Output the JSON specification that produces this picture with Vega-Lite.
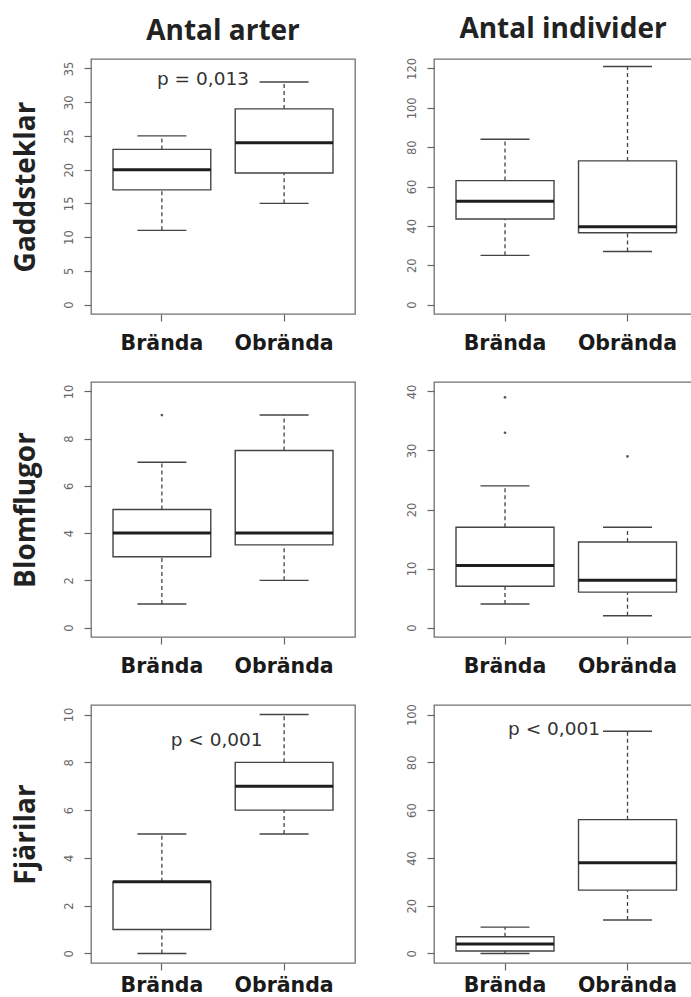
{
  "$schema": "https://vega.github.io/schema/vega-lite/v6.json",
  "padding": {"left": 11, "top": 15, "right": 0, "bottom": 0},
  "background": "white",
  "datasets": {
    "stats": [
      {"taxon": "Gaddsteklar", "measure": "arter", "group": "Brända", "min": 11, "q1": 17, "median": 20, "q3": 23, "max": 25},
      {"taxon": "Gaddsteklar", "measure": "arter", "group": "Obrända", "min": 15, "q1": 19.5, "median": 24, "q3": 29, "max": 33},
      {"taxon": "Gaddsteklar", "measure": "individer", "group": "Brända", "min": 25, "q1": 43.5, "median": 52.5, "q3": 63, "max": 84},
      {"taxon": "Gaddsteklar", "measure": "individer", "group": "Obrända", "min": 27, "q1": 36.5, "median": 39.5, "q3": 73, "max": 121},
      {"taxon": "Blomflugor", "measure": "arter", "group": "Brända", "min": 1, "q1": 3, "median": 4, "q3": 5, "max": 7},
      {"taxon": "Blomflugor", "measure": "arter", "group": "Obrända", "min": 2, "q1": 3.5, "median": 4, "q3": 7.5, "max": 9},
      {"taxon": "Blomflugor", "measure": "individer", "group": "Brända", "min": 4, "q1": 7, "median": 10.5, "q3": 17, "max": 24},
      {"taxon": "Blomflugor", "measure": "individer", "group": "Obrända", "min": 2, "q1": 6, "median": 8, "q3": 14.5, "max": 17},
      {"taxon": "Fjärilar", "measure": "arter", "group": "Brända", "min": 0, "q1": 1, "median": 3, "q3": 3, "max": 5},
      {"taxon": "Fjärilar", "measure": "arter", "group": "Obrända", "min": 5, "q1": 6, "median": 7, "q3": 8, "max": 10},
      {"taxon": "Fjärilar", "measure": "individer", "group": "Brända", "min": 0, "q1": 1, "median": 4, "q3": 7, "max": 11},
      {"taxon": "Fjärilar", "measure": "individer", "group": "Obrända", "min": 14, "q1": 26.5, "median": 38, "q3": 56, "max": 93}
    ],
    "outliers": [
      {"taxon": "Blomflugor", "measure": "arter", "group": "Brända", "value": 9},
      {"taxon": "Blomflugor", "measure": "individer", "group": "Brända", "value": 33},
      {"taxon": "Blomflugor", "measure": "individer", "group": "Brända", "value": 39},
      {"taxon": "Blomflugor", "measure": "individer", "group": "Obrända", "value": 29}
    ],
    "pvalues": [
      {"taxon": "Gaddsteklar", "measure": "arter", "label": "p = 0,013"},
      {"taxon": "Fjärilar", "measure": "arter", "label": "p < 0,001"},
      {"taxon": "Fjärilar", "measure": "individer", "label": "p < 0,001"}
    ]
  },
  "hconcat": [
    {
      "bounds": "flush",
      "spacing": 68,
      "vconcat": [
        {
          "width": 264, "height": 255,
          "title": {"text": "Antal arter"},
          "data": {"name": "stats"},
          "transform": [{"filter": "datum.taxon === 'Gaddsteklar' && datum.measure === 'arter'"}],
          "encoding": {"x": {"field": "group", "type": "nominal", "sort": ["Brända", "Obrända"], "scale": {"paddingInner": 0.2, "paddingOuter": 0.18}, "title": null}},
          "layer": [
            {"mark": {"type": "rule", "color": "#444", "strokeWidth": 1.3, "strokeDash": [4, 3]}, "encoding": {"y": {"field": "min", "type": "quantitative", "scale": {"domain": [-1.4, 36.4], "nice": false, "zero": false}, "axis": {"values": [0, 5, 10, 15, 20, 25, 30, 35]}, "title": "Gaddsteklar"}, "y2": {"field": "q1"}}},
            {"mark": {"type": "rule", "color": "#444", "strokeWidth": 1.3, "strokeDash": [4, 3]}, "encoding": {"y": {"field": "q3", "type": "quantitative", "axis": {"values": [0, 5, 10, 15, 20, 25, 30, 35]}, "title": "Gaddsteklar"}, "y2": {"field": "max"}}},
            {"mark": {"type": "tick", "color": "#444", "thickness": 1.4, "size": 49, "opacity": 1}, "encoding": {"y": {"field": "min", "type": "quantitative", "axis": {"values": [0, 5, 10, 15, 20, 25, 30, 35]}, "title": "Gaddsteklar"}}},
            {"mark": {"type": "tick", "color": "#444", "thickness": 1.4, "size": 49, "opacity": 1}, "encoding": {"y": {"field": "max", "type": "quantitative", "axis": {"values": [0, 5, 10, 15, 20, 25, 30, 35]}, "title": "Gaddsteklar"}}},
            {"mark": {"type": "bar", "fill": "white", "stroke": "#444", "strokeWidth": 1.4}, "encoding": {"y": {"field": "q1", "type": "quantitative", "axis": {"values": [0, 5, 10, 15, 20, 25, 30, 35]}, "title": "Gaddsteklar"}, "y2": {"field": "q3"}}},
            {"mark": {"type": "tick", "color": "#1e1e1e", "thickness": 3, "size": 98, "opacity": 1}, "encoding": {"y": {"field": "median", "type": "quantitative", "axis": {"values": [0, 5, 10, 15, 20, 25, 30, 35]}, "title": "Gaddsteklar"}}},
            {"data": {"name": "pvalues"}, "transform": [{"filter": "datum.taxon === 'Gaddsteklar' && datum.measure === 'arter'"}], "mark": {"type": "text", "font": "DejaVu Sans", "fontSize": 18.5, "color": "#333", "align": "center", "baseline": "middle"}, "encoding": {"x": {"datum": "Brända", "bandPosition": 0.92}, "y": {"datum": 33.4, "type": "quantitative", "axis": {"values": [0, 5, 10, 15, 20, 25, 30, 35]}, "title": "Gaddsteklar"}, "text": {"field": "label"}}}
          ]
        },
        {
          "width": 264, "height": 255,
          "data": {"name": "stats"},
          "transform": [{"filter": "datum.taxon === 'Blomflugor' && datum.measure === 'arter'"}],
          "encoding": {"x": {"field": "group", "type": "nominal", "sort": ["Brända", "Obrända"], "scale": {"paddingInner": 0.2, "paddingOuter": 0.18}, "title": null}},
          "layer": [
            {"mark": {"type": "rule", "color": "#444", "strokeWidth": 1.3, "strokeDash": [4, 3]}, "encoding": {"y": {"field": "min", "type": "quantitative", "scale": {"domain": [-0.4, 10.4], "nice": false, "zero": false}, "axis": {"values": [0, 2, 4, 6, 8, 10]}, "title": "Blomflugor"}, "y2": {"field": "q1"}}},
            {"mark": {"type": "rule", "color": "#444", "strokeWidth": 1.3, "strokeDash": [4, 3]}, "encoding": {"y": {"field": "q3", "type": "quantitative", "title": "Blomflugor"}, "y2": {"field": "max"}}},
            {"mark": {"type": "tick", "color": "#444", "thickness": 1.4, "size": 49, "opacity": 1}, "encoding": {"y": {"field": "min", "type": "quantitative", "title": "Blomflugor"}}},
            {"mark": {"type": "tick", "color": "#444", "thickness": 1.4, "size": 49, "opacity": 1}, "encoding": {"y": {"field": "max", "type": "quantitative", "title": "Blomflugor"}}},
            {"mark": {"type": "bar", "fill": "white", "stroke": "#444", "strokeWidth": 1.4}, "encoding": {"y": {"field": "q1", "type": "quantitative", "title": "Blomflugor"}, "y2": {"field": "q3"}}},
            {"mark": {"type": "tick", "color": "#1e1e1e", "thickness": 3, "size": 98, "opacity": 1}, "encoding": {"y": {"field": "median", "type": "quantitative", "title": "Blomflugor"}}},
            {"data": {"name": "outliers"}, "transform": [{"filter": "datum.taxon === 'Blomflugor' && datum.measure === 'arter'"}], "mark": {"type": "point", "filled": true, "color": "#555", "size": 7, "opacity": 1}, "encoding": {"y": {"field": "value", "type": "quantitative", "title": "Blomflugor"}}}
          ]
        },
        {
          "width": 264, "height": 258,
          "data": {"name": "stats"},
          "transform": [{"filter": "datum.taxon === 'Fjärilar' && datum.measure === 'arter'"}],
          "encoding": {"x": {"field": "group", "type": "nominal", "sort": ["Brända", "Obrända"], "scale": {"paddingInner": 0.2, "paddingOuter": 0.18}, "axis": {"labelPadding": 5}, "title": null}},
          "layer": [
            {"mark": {"type": "rule", "color": "#444", "strokeWidth": 1.3, "strokeDash": [4, 3]}, "encoding": {"y": {"field": "min", "type": "quantitative", "scale": {"domain": [-0.4, 10.4], "nice": false, "zero": false}, "axis": {"values": [0, 2, 4, 6, 8, 10]}, "title": "Fjärilar"}, "y2": {"field": "q1"}}},
            {"mark": {"type": "rule", "color": "#444", "strokeWidth": 1.3, "strokeDash": [4, 3]}, "encoding": {"y": {"field": "q3", "type": "quantitative", "title": "Fjärilar"}, "y2": {"field": "max"}}},
            {"mark": {"type": "tick", "color": "#444", "thickness": 1.4, "size": 49, "opacity": 1}, "encoding": {"y": {"field": "min", "type": "quantitative", "title": "Fjärilar"}}},
            {"mark": {"type": "tick", "color": "#444", "thickness": 1.4, "size": 49, "opacity": 1}, "encoding": {"y": {"field": "max", "type": "quantitative", "title": "Fjärilar"}}},
            {"mark": {"type": "bar", "fill": "white", "stroke": "#444", "strokeWidth": 1.4}, "encoding": {"y": {"field": "q1", "type": "quantitative", "title": "Fjärilar"}, "y2": {"field": "q3"}}},
            {"mark": {"type": "tick", "color": "#1e1e1e", "thickness": 3, "size": 98, "opacity": 1}, "encoding": {"y": {"field": "median", "type": "quantitative", "title": "Fjärilar"}}},
            {"data": {"name": "pvalues"}, "transform": [{"filter": "datum.taxon === 'Fjärilar' && datum.measure === 'arter'"}], "mark": {"type": "text", "font": "DejaVu Sans", "fontSize": 18.5, "color": "#333", "align": "center", "baseline": "middle"}, "encoding": {"x": {"datum": "Brända", "bandPosition": 1.06}, "y": {"datum": 8.93, "type": "quantitative", "title": "Fjärilar"}, "text": {"field": "label"}}}
          ]
        }
      ]
    },
    {
      "bounds": "flush",
      "spacing": 68,
      "vconcat": [
        {
          "width": 258, "height": 255,
          "title": {"text": "Antal individer"},
          "data": {"name": "stats"},
          "transform": [{"filter": "datum.taxon === 'Gaddsteklar' && datum.measure === 'individer'"}],
          "encoding": {"x": {"field": "group", "type": "nominal", "sort": ["Brända", "Obrända"], "scale": {"paddingInner": 0.2, "paddingOuter": 0.153, "align": 0.587}, "title": null}},
          "layer": [
            {"mark": {"type": "rule", "color": "#444", "strokeWidth": 1.3, "strokeDash": [4, 3]}, "encoding": {"y": {"field": "min", "type": "quantitative", "scale": {"domain": [-4.8, 124.8], "nice": false, "zero": false}, "axis": {"values": [0, 20, 40, 60, 80, 100, 120]}, "title": null}, "y2": {"field": "q1"}}},
            {"mark": {"type": "rule", "color": "#444", "strokeWidth": 1.3, "strokeDash": [4, 3]}, "encoding": {"y": {"field": "q3", "type": "quantitative", "title": null}, "y2": {"field": "max"}}},
            {"mark": {"type": "tick", "color": "#444", "thickness": 1.4, "size": 49, "opacity": 1}, "encoding": {"y": {"field": "min", "type": "quantitative", "title": null}}},
            {"mark": {"type": "tick", "color": "#444", "thickness": 1.4, "size": 49, "opacity": 1}, "encoding": {"y": {"field": "max", "type": "quantitative", "title": null}}},
            {"mark": {"type": "bar", "fill": "white", "stroke": "#444", "strokeWidth": 1.4}, "encoding": {"y": {"field": "q1", "type": "quantitative", "title": null}, "y2": {"field": "q3"}}},
            {"mark": {"type": "tick", "color": "#1e1e1e", "thickness": 3, "size": 98, "opacity": 1}, "encoding": {"y": {"field": "median", "type": "quantitative", "title": null}}}
          ]
        },
        {
          "width": 258, "height": 255,
          "data": {"name": "stats"},
          "transform": [{"filter": "datum.taxon === 'Blomflugor' && datum.measure === 'individer'"}],
          "encoding": {"x": {"field": "group", "type": "nominal", "sort": ["Brända", "Obrända"], "scale": {"paddingInner": 0.2, "paddingOuter": 0.153, "align": 0.587}, "title": null}},
          "layer": [
            {"mark": {"type": "rule", "color": "#444", "strokeWidth": 1.3, "strokeDash": [4, 3]}, "encoding": {"y": {"field": "min", "type": "quantitative", "scale": {"domain": [-1.6, 41.6], "nice": false, "zero": false}, "axis": {"values": [0, 10, 20, 30, 40]}, "title": null}, "y2": {"field": "q1"}}},
            {"mark": {"type": "rule", "color": "#444", "strokeWidth": 1.3, "strokeDash": [4, 3]}, "encoding": {"y": {"field": "q3", "type": "quantitative", "title": null}, "y2": {"field": "max"}}},
            {"mark": {"type": "tick", "color": "#444", "thickness": 1.4, "size": 49, "opacity": 1}, "encoding": {"y": {"field": "min", "type": "quantitative", "title": null}}},
            {"mark": {"type": "tick", "color": "#444", "thickness": 1.4, "size": 49, "opacity": 1}, "encoding": {"y": {"field": "max", "type": "quantitative", "title": null}}},
            {"mark": {"type": "bar", "fill": "white", "stroke": "#444", "strokeWidth": 1.4}, "encoding": {"y": {"field": "q1", "type": "quantitative", "title": null}, "y2": {"field": "q3"}}},
            {"mark": {"type": "tick", "color": "#1e1e1e", "thickness": 3, "size": 98, "opacity": 1}, "encoding": {"y": {"field": "median", "type": "quantitative", "title": null}}},
            {"data": {"name": "outliers"}, "transform": [{"filter": "datum.taxon === 'Blomflugor' && datum.measure === 'individer'"}], "mark": {"type": "point", "filled": true, "color": "#555", "size": 7, "opacity": 1}, "encoding": {"y": {"field": "value", "type": "quantitative", "title": null}}}
          ]
        },
        {
          "width": 258, "height": 258,
          "data": {"name": "stats"},
          "transform": [{"filter": "datum.taxon === 'Fjärilar' && datum.measure === 'individer'"}],
          "encoding": {"x": {"field": "group", "type": "nominal", "sort": ["Brända", "Obrända"], "scale": {"paddingInner": 0.2, "paddingOuter": 0.153, "align": 0.587}, "axis": {"labelPadding": 5}, "title": null}},
          "layer": [
            {"mark": {"type": "rule", "color": "#444", "strokeWidth": 1.3, "strokeDash": [4, 3]}, "encoding": {"y": {"field": "min", "type": "quantitative", "scale": {"domain": [-4, 104], "nice": false, "zero": false}, "axis": {"values": [0, 20, 40, 60, 80, 100]}, "title": null}, "y2": {"field": "q1"}}},
            {"mark": {"type": "rule", "color": "#444", "strokeWidth": 1.3, "strokeDash": [4, 3]}, "encoding": {"y": {"field": "q3", "type": "quantitative", "title": null}, "y2": {"field": "max"}}},
            {"mark": {"type": "tick", "color": "#444", "thickness": 1.4, "size": 49, "opacity": 1}, "encoding": {"y": {"field": "min", "type": "quantitative", "title": null}}},
            {"mark": {"type": "tick", "color": "#444", "thickness": 1.4, "size": 49, "opacity": 1}, "encoding": {"y": {"field": "max", "type": "quantitative", "title": null}}},
            {"mark": {"type": "bar", "fill": "white", "stroke": "#444", "strokeWidth": 1.4}, "encoding": {"y": {"field": "q1", "type": "quantitative", "title": null}, "y2": {"field": "q3"}}},
            {"mark": {"type": "tick", "color": "#1e1e1e", "thickness": 3, "size": 98, "opacity": 1}, "encoding": {"y": {"field": "median", "type": "quantitative", "title": null}}},
            {"data": {"name": "pvalues"}, "transform": [{"filter": "datum.taxon === 'Fjärilar' && datum.measure === 'individer'"}], "mark": {"type": "text", "font": "DejaVu Sans", "fontSize": 18.5, "color": "#333", "align": "center", "baseline": "middle"}, "encoding": {"x": {"datum": "Brända", "bandPosition": 1.0}, "y": {"datum": 93.8, "type": "quantitative", "title": null}, "text": {"field": "label"}}}
          ]
        }
      ]
    }
  ],
  "spacing": 49,
  "config": {
    "view": {"stroke": "#707070", "strokeWidth": 1.3},
    "title": {"font": "Open Sans", "fontSize": 28, "fontWeight": "bold", "color": "#222", "offset": 13, "anchor": "middle"},
    "axisX": {"domain": false, "grid": false, "tickColor": "#666", "tickSize": 7, "tickWidth": 1.2, "labelFont": "DejaVu Sans", "labelFontSize": 20.5, "labelFontWeight": "bold", "labelColor": "#1a1a1a", "labelPadding": 12, "labelAngle": 0},
    "axisY": {"domain": false, "grid": false, "tickColor": "#666", "tickSize": 7, "tickWidth": 1.2, "labelFont": "DejaVu Sans", "labelFontSize": 11.5, "labelColor": "#666", "labelAngle": 270, "labelAlign": "center", "labelBaseline": "bottom", "labelPadding": 10, "labelOverlap": false, "labelFlush": false, "titleFont": "Open Sans", "titleFontSize": 28, "titleFontWeight": "bold", "titleColor": "#222", "titlePadding": 23}
  }
}
